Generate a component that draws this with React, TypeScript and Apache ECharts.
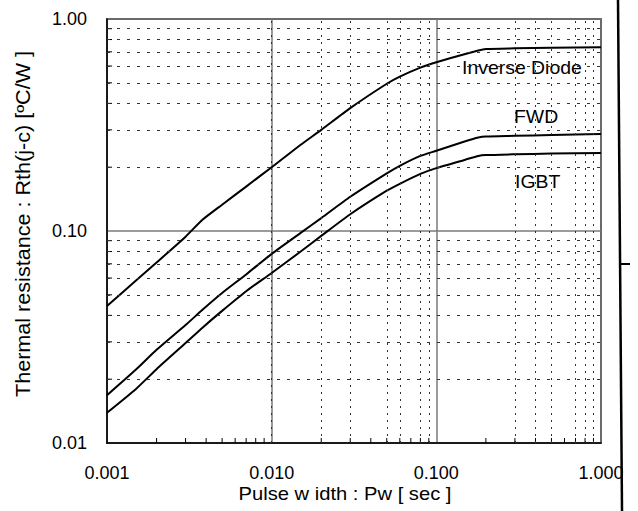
import React, { useEffect, useRef } from "react";
import * as echarts from "echarts";

// Pulse width [sec] sample points shared by the three curves
const pulseWidth = [0.001, 0.0015, 0.002, 0.003, 0.0038, 0.005, 0.007, 0.01, 0.015, 0.02, 0.03, 0.05, 0.06, 0.08, 0.1, 0.15, 0.18, 0.2, 0.3, 0.5, 1.0];

// Transient thermal resistance Rth(j-c) [°C/W]
const inverseDiode = [0.0443, 0.0584, 0.071, 0.094, 0.113, 0.133, 0.162, 0.2, 0.255, 0.3, 0.38, 0.495, 0.535, 0.59, 0.625, 0.684, 0.711, 0.722, 0.727, 0.732, 0.735];
const fwd = [0.0168, 0.0222, 0.0275, 0.036, 0.0425, 0.051, 0.0624, 0.078, 0.098, 0.115, 0.145, 0.187, 0.203, 0.226, 0.239, 0.265, 0.276, 0.279, 0.281, 0.284, 0.287];
const igbt = [0.0139, 0.018, 0.0223, 0.0296, 0.035, 0.042, 0.052, 0.0634, 0.08, 0.0948, 0.12, 0.155, 0.167, 0.186, 0.198, 0.217, 0.226, 0.228, 0.23, 0.232, 0.233];

const seriesNames = ["Inverse Diode", "FWD", "IGBT"];

// Dotted vertical grid lines inside each decade
const xMinorGrid = [0.002, 0.003, 0.005, 0.006, 0.009, 0.02, 0.03, 0.05, 0.06, 0.08, 0.09, 0.3, 0.4, 0.5, 0.7, 0.8, 0.9];
// Short inward ticks on the bottom axis
const xMinorTicks = [0.002, 0.003, 0.004, 0.005, 0.006, 0.007, 0.008, 0.009, 0.02, 0.03, 0.04, 0.05, 0.06, 0.07, 0.08, 0.09, 0.2, 0.3, 0.4, 0.5, 0.6, 0.7, 0.8, 0.9];
// Dotted horizontal grid lines and left-axis ticks
const yMinor = [0.02, 0.03, 0.04, 0.05, 0.06, 0.07, 0.08, 0.09, 0.2, 0.3, 0.4, 0.5, 0.6, 0.7, 0.8, 0.9];

const X_MIN = 0.001;
const X_MAX = 1;
const Y_MIN = 0.01;
const Y_MAX = 1;

const FONT = "'Liberation Sans', Arial, sans-serif";

function pairs(xs: number[], ys: number[]) {
  return xs.map((x, i) => [x, ys[i]]);
}

export default function App() {
  const ref = useRef<HTMLDivElement>(null);

  useEffect(() => {
    if (!ref.current) return;
    const chart = echarts.init(ref.current, undefined, { renderer: "svg" });

    const curveStyle = { color: "#000", width: 2 };
    const curve = (name: string, ys: number[]) => ({
      name,
      type: "line",
      data: pairs(pulseWidth, ys),
      showSymbol: false,
      smooth: 0.2,
      lineStyle: curveStyle,
    });

    const option: any = {
      animation: false,
      backgroundColor: "#fff",
      grid: {
        left: 107,
        top: 19,
        right: 37,
        bottom: 68,
        show: true,
        borderColor: "#000",
        borderWidth: 1.5,
      },
      xAxis: {
        type: "log",
        logBase: 10,
        min: X_MIN,
        max: X_MAX,
        axisLine: { show: true, lineStyle: { color: "#000", width: 1.5 } },
        axisTick: { show: false },
        splitLine: { show: true, lineStyle: { color: "#7a7a7a", width: 1.5 } },
        axisLabel: {
          color: "#000",
          fontSize: 18,
          fontFamily: FONT,
          margin: 21,
          formatter: (v: number) => v.toFixed(3),
        },
      },
      yAxis: {
        type: "log",
        logBase: 10,
        min: Y_MIN,
        max: Y_MAX,
        axisLine: { show: true, lineStyle: { color: "#000", width: 1.5 } },
        axisTick: { show: false },
        splitLine: { show: true, lineStyle: { color: "#7a7a7a", width: 1.5 } },
        axisLabel: {
          color: "#000",
          fontSize: 18,
          fontFamily: FONT,
          margin: 20,
          formatter: (v: number) => v.toFixed(2),
        },
      },
      series: [
        // dotted minor grid
        {
          type: "line",
          data: [],
          silent: true,
          markLine: {
            silent: true,
            symbol: "none",
            label: { show: false },
            lineStyle: { color: "#333", width: 1, type: [2, 5] },
            data: xMinorGrid.map((x) => ({ xAxis: x })),
          },
        },
        {
          type: "line",
          data: [],
          silent: true,
          markLine: {
            silent: true,
            symbol: "none",
            label: { show: false },
            lineStyle: { color: "#333", width: 1, type: [3, 7] },
            data: yMinor.map((y) => ({ yAxis: y })),
          },
        },
        // short inward minor ticks on the bottom and left axes
        {
          type: "custom",
          silent: true,
          data: xMinorTicks.map((x) => [x, Y_MIN]),
          renderItem: (_p: any, api: any) => {
            const pt = api.coord([api.value(0), api.value(1)]);
            return {
              type: "line",
              shape: { x1: pt[0], y1: pt[1], x2: pt[0], y2: pt[1] - 5 },
              style: { stroke: "#000", lineWidth: 1 },
            };
          },
        },
        {
          type: "custom",
          silent: true,
          data: yMinor.map((y) => [X_MIN, y]),
          renderItem: (_p: any, api: any) => {
            const pt = api.coord([api.value(0), api.value(1)]);
            return {
              type: "line",
              shape: { x1: pt[0], y1: pt[1], x2: pt[0] + 5, y2: pt[1] },
              style: { stroke: "#000", lineWidth: 1 },
            };
          },
        },
        curve(seriesNames[0], inverseDiode),
        curve(seriesNames[1], fwd),
        curve(seriesNames[2], igbt),
      ],
      graphic: [
        {
          type: "text",
          x: 462,
          y: 68,
          scaleX: 1.08,
          style: { text: seriesNames[0], font: `18px ${FONT}`, fill: "#000", textVerticalAlign: "middle" },
        },
        {
          type: "text",
          x: 514,
          y: 117,
          scaleX: 1.08,
          style: { text: seriesNames[1], font: `18px ${FONT}`, fill: "#000", textVerticalAlign: "middle" },
        },
        {
          type: "text",
          x: 515,
          y: 182,
          scaleX: 1.08,
          style: { text: seriesNames[2], font: `18px ${FONT}`, fill: "#000", textVerticalAlign: "middle" },
        },
        {
          type: "text",
          x: 345,
          y: 494,
          scaleX: 1.12,
          style: {
            text: "Pulse w idth : Pw [ sec ]",
            font: `18px ${FONT}`,
            fill: "#000",
            textAlign: "center",
            textVerticalAlign: "middle",
          },
        },
        {
          type: "text",
          x: 23,
          y: 224,
          rotation: Math.PI / 2,
          scaleX: 1.08,
          style: {
            text: "Thermal resistance : Rth(j-c) [ºC/W ]",
            font: `20px ${FONT}`,
            fill: "#000",
            textAlign: "center",
            textVerticalAlign: "middle",
          },
        },
        // page edge rule at the right
        {
          type: "line",
          shape: { x1: 618, y1: 0, x2: 622, y2: 511 },
          style: { stroke: "#000", lineWidth: 2.5 },
        },
        {
          type: "line",
          shape: { x1: 620, y1: 264, x2: 630, y2: 264 },
          style: { stroke: "#000", lineWidth: 2 },
        },
      ],
    };

    chart.setOption(option);
    return () => chart.dispose();
  }, []);

  return (
    <div
      ref={ref}
      style={{ position: "absolute", left: 0, top: 0, width: 638, height: 511, background: "#fff" }}
    />
  );
}
